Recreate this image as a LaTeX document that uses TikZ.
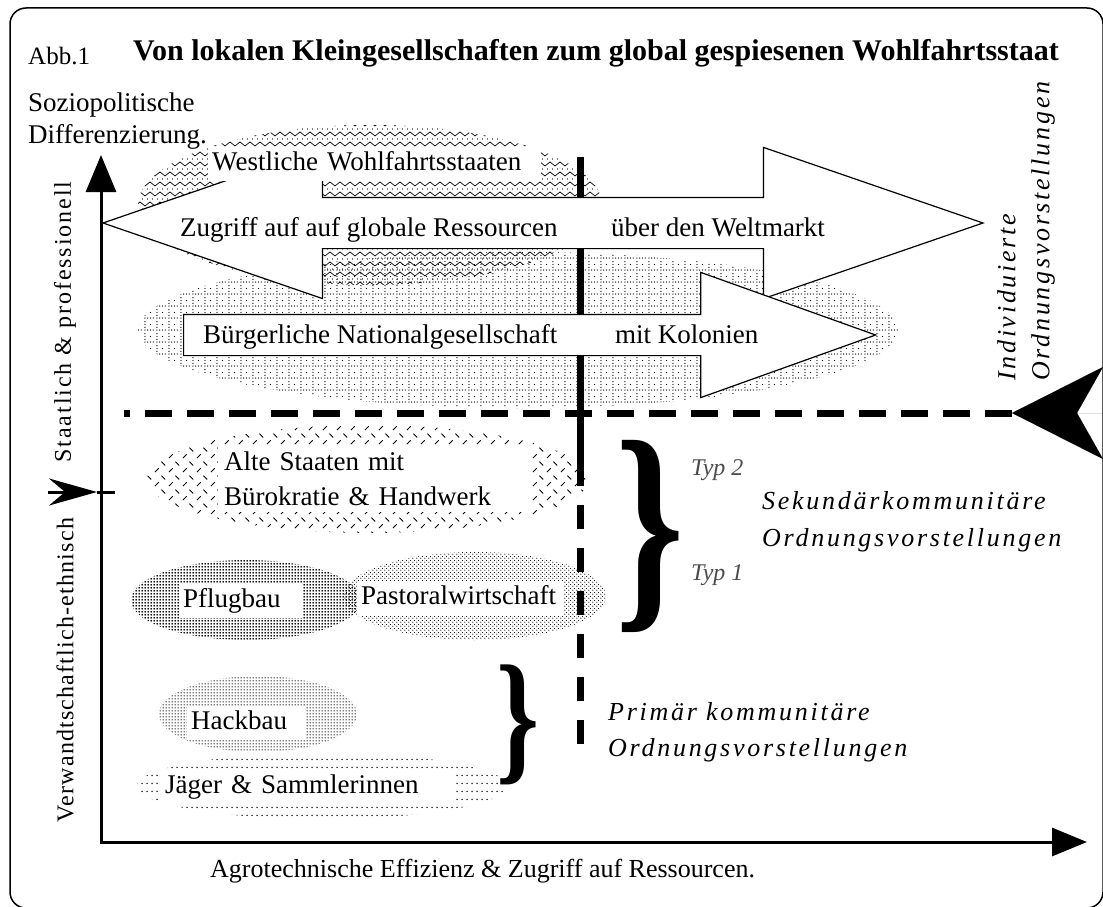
\documentclass[tikz,border=0pt]{standalone}
\usepackage{fontspec}
\setmainfont{Liberation Serif}
\newfontfamily\spacedfont{Liberation Serif}[LetterSpace=10.5]
\newfontfamily\axisfont{Liberation Serif}[LetterSpace=5]
\usepackage{graphicx}
\usepackage{tikz}
\usetikzlibrary{arrows.meta,patterns,shapes.geometric,shapes.arrows}

\pgfdeclarepatternformonly{zigzag}{\pgfqpoint{-1pt}{-1pt}}{\pgfqpoint{11pt}{11pt}}{\pgfqpoint{10pt}{10pt}}{%
  \pgfsetlinewidth{0.7pt}%
  \pgfpathmoveto{\pgfqpoint{0pt}{5pt}}%
  \pgfpathlineto{\pgfqpoint{5pt}{1pt}}%
  \pgfpathlineto{\pgfqpoint{10pt}{5pt}}%
  \pgfusepath{stroke}%
  \pgfpathcircle{\pgfqpoint{2.5pt}{8pt}}{0.65pt}%
  \pgfpathcircle{\pgfqpoint{7.5pt}{8pt}}{0.65pt}%
  \pgfusepath{fill}}
\pgfdeclarepatternformonly{dotgrid}{\pgfqpoint{0pt}{0pt}}{\pgfqpoint{12pt}{12pt}}{\pgfqpoint{12pt}{12pt}}{%
  \pgfpathcircle{\pgfqpoint{1pt}{1pt}}{0.7pt}%
  \pgfpathcircle{\pgfqpoint{4pt}{1pt}}{0.7pt}%
  \pgfpathcircle{\pgfqpoint{7pt}{1pt}}{0.7pt}%
  \pgfpathcircle{\pgfqpoint{10pt}{1pt}}{0.7pt}%
  \pgfpathcircle{\pgfqpoint{1pt}{4pt}}{0.7pt}%
  \pgfpathcircle{\pgfqpoint{1pt}{7pt}}{0.7pt}%
  \pgfpathcircle{\pgfqpoint{1pt}{10pt}}{0.7pt}%
  \pgfpathcircle{\pgfqpoint{7pt}{7pt}}{0.7pt}%
  \pgfusepath{fill}}
\pgfdeclarepatternformonly{weave}{\pgfqpoint{0pt}{0pt}}{\pgfqpoint{14pt}{14pt}}{\pgfqpoint{14pt}{14pt}}{%
  \pgfsetlinewidth{0.9pt}%
  \pgfpathmoveto{\pgfqpoint{1pt}{1pt}}\pgfpathlineto{\pgfqpoint{5pt}{5pt}}%
  \pgfpathmoveto{\pgfqpoint{8pt}{12pt}}\pgfpathlineto{\pgfqpoint{12pt}{8pt}}%
  \pgfusepath{stroke}}
\pgfdeclarepatternformonly{densedots}{\pgfqpoint{0pt}{0pt}}{\pgfqpoint{3pt}{3pt}}{\pgfqpoint{3pt}{3pt}}{%
  \pgfpathcircle{\pgfqpoint{1.5pt}{1.5pt}}{1.3pt}%
  \pgfusepath{fill}}
\pgfdeclarepatternformonly{lightdots}{\pgfqpoint{0pt}{0pt}}{\pgfqpoint{4pt}{4pt}}{\pgfqpoint{4pt}{4pt}}{%
  \pgfpathcircle{\pgfqpoint{1pt}{1pt}}{0.7pt}%
  \pgfpathcircle{\pgfqpoint{3pt}{3pt}}{0.7pt}%
  \pgfusepath{fill}}
\pgfdeclarepatternformonly{hackdots}{\pgfqpoint{0pt}{0pt}}{\pgfqpoint{3pt}{3pt}}{\pgfqpoint{3pt}{3pt}}{%
  \pgfpathcircle{\pgfqpoint{1.5pt}{1.5pt}}{0.9pt}%
  \pgfusepath{fill}}
\pgfdeclarepatternformonly{rowdots}{\pgfqpoint{0pt}{0pt}}{\pgfqpoint{5pt}{8pt}}{\pgfqpoint{5pt}{8pt}}{%
  \pgfpathcircle{\pgfqpoint{2.5pt}{4pt}}{0.9pt}%
  \pgfusepath{fill}}

\begin{document}
\begin{tikzpicture}[x=1pt,y=-1pt,
  lbl/.style={inner sep=0pt, font=\fontsize{27}{35}\selectfont},
  box/.style={fill=white, inner xsep=4pt, inner ysep=3pt, align=left, font=\fontsize{27}{35}\selectfont},
  tbox/.style={box, text height=20pt, text depth=8pt},
  patch/.style={ellipse, inner sep=0pt},
  ord/.style={inner sep=0pt, align=left, font=\fontsize{26}{37}\spacedfont\itshape}]
\useasboundingbox (0,0) rectangle (1103,907);

\draw[line width=1.5pt, rounded corners=16pt] (10,8) rectangle (1103,908);

\node[lbl, anchor=base west, font=\fontsize{25}{30}\selectfont] (1) at (28,64) {Abb.1};
\node[lbl, anchor=base west, font=\fontsize{30}{36}\selectfont\bfseries] (2) at (133,60)
{Von lokalen Kleingesellschaften zum global gespiesenen Wohlfahrtsstaat};
\node[lbl, anchor=base west] (3) at (28,111) {Soziopolitische};
\node[lbl, anchor=base west] (4) at (28,143) {Differenzierung.};

\node[patch, pattern=zigzag, minimum width=464pt, minimum height=160pt] (5) at (370,205) {};
\node[patch, pattern=dotgrid, minimum width=760pt, minimum height=156pt] (6) at (518,330) {};
\node[patch, pattern=weave, minimum width=442pt, minimum height=108pt] (7) at (368,479) {};
\node[patch, pattern=lightdots, minimum width=262pt, minimum height=88pt] (8) at (475,596) {};
\node[patch, pattern=densedots, minimum width=230pt, minimum height=80pt] (9) at (246,600) {};
\node[patch, pattern=hackdots, minimum width=198pt, minimum height=76pt] (10) at (258,714) {};
\node[patch, pattern=rowdots, minimum width=370pt, minimum height=66pt] (11) at (322,786) {};

\coordinate (12) at (580,157);
\coordinate (13) at (580,462);
\coordinate (14) at (580,762);
\draw[line width=7pt] (12) -- (13);
\draw[line width=7pt, dash pattern=on 24pt off 19pt] (13) -- (14);

\node[double arrow, draw, fill=white, line width=1.2pt, inner xsep=0pt, inner ysep=25pt,
  minimum height=880pt,
  double arrow head extend=50pt, double arrow tip angle=38] (15) at (543,223) {};
\node[single arrow, draw, fill=white, line width=1.2pt, inner xsep=0pt, inner ysep=20pt, anchor=tail,
  minimum height=692pt,
  single arrow head extend=42pt, single arrow tip angle=39.4] (16) at (183,335) {};

\node[tbox, anchor=base west, text width=325pt] (17) at (208,170) {Westliche Wohlfahrtsstaaten};
\node[lbl, anchor=base west] (18) at (180,236) {Zugriff auf auf globale Ressourcen};
\node[lbl, anchor=base west] (19) at (611,236) {über den Weltmarkt};
\node[lbl, anchor=base west] (20) at (203,343) {Bürgerliche Nationalgesellschaft};
\node[lbl, anchor=base west] (21) at (615,343) {mit Kolonien};

\coordinate (22) at (1130,413);
\coordinate (23) at (1012,413);
\coordinate (24) at (124,413);
\draw[line width=0.01pt, -{Stealth[length=91pt, width=92pt, inset=26pt]}] (22) -- (23);
\draw[line width=7pt, dash pattern=on 27pt off 15pt] (23) -- (24);

\coordinate (25) at (101,842);
\coordinate (26) at (101,155);
\coordinate (27) at (1087,842);
\draw[line width=3pt, {Triangle[length=37pt, width=30pt]}-{Triangle[length=35pt, width=28pt]}] (26) -- (25) -- (27);

\coordinate (28) at (48,492);
\coordinate (29) at (97,492);
\coordinate (30) at (115,492);
\draw[line width=3pt, -{Stealth[length=48pt, width=27pt, inset=16pt]}] (28) -- (29);
\draw[line width=3pt] (29) -- (30);

\node[rotate=90, inner sep=0pt, font=\fontsize{24}{28}\axisfont] (31) at (65,670) {Verwandtschaftlich-ethnisch};
\node[rotate=90, inner sep=0pt, font=\fontsize{24}{28}\axisfont\addfontfeature{LetterSpace=8}] (32) at (65,322) {Staatlich \& professionell};

\node[box, anchor=west, text width=300pt, inner xsep=6pt, inner ysep=6pt] (33) at (218,479)
{Alte Staaten mit\\Bürokratie \& Handwerk};
\node[tbox, anchor=base west, text width=115pt] (34) at (179,607) {Pflugbau};
\node[tbox, anchor=base west, text width=199pt] (35) at (357,604) {Pastoralwirtschaft};
\node[tbox, anchor=base west, text width=110pt] (36) at (187,729) {Hackbau};
\node[tbox, anchor=base west, text width=285pt] (37) at (161,793) {Jäger \& Sammlerinnen};

\node[inner sep=0pt] (38) at (650,536) {\resizebox*{69pt}{192pt}{\bfseries\}}};
\node[inner sep=0pt] (39) at (518,725) {\resizebox*{43pt}{120pt}{\bfseries\}}};

\node[lbl, anchor=base west, text=black!70, font=\fontsize{24}{28}\selectfont\itshape] (40) at (691,475) {Typ 2};
\node[lbl, anchor=base west, text=black!70, font=\fontsize{24}{28}\selectfont\itshape] (41) at (691,580) {Typ 1};

\node[ord, anchor=west] (42) at (762,522) {Sekundärkommunitäre\\Ordnungsvorstellungen};
\node[ord, anchor=west, font=\fontsize{26}{36}\spacedfont\itshape] (43) at (608,732) {Primär kommunitäre\\Ordnungsvorstellungen};
\node[ord, anchor=west, rotate=90, font=\fontsize{26}{34}\spacedfont\itshape] (44) at (1026,381) {Individuierte\\Ordnungsvorstellungen};

\node[lbl, anchor=base west, font=\fontsize{26}{30}\selectfont] (45) at (210,877)
{Agrotechnische Effizienz \& Zugriff auf Ressourcen.};
\end{tikzpicture}
\end{document}
